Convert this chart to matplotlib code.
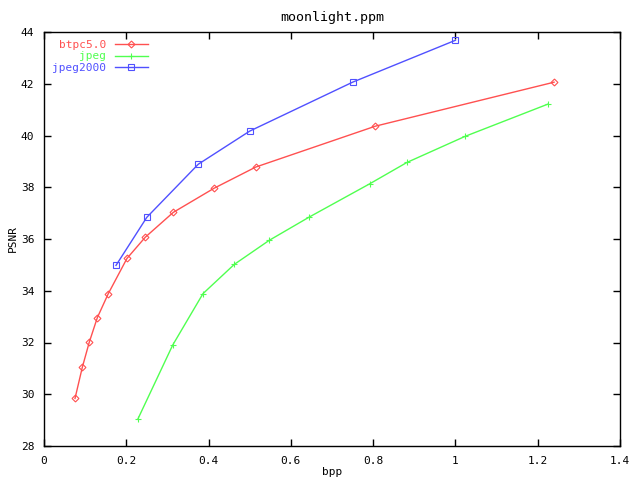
import matplotlib
matplotlib.use("Agg")
import matplotlib.pyplot as plt

plt.rcParams['font.family'] = 'DejaVu Sans Mono'
plt.rcParams['font.size'] = 8

# rate / PSNR curves
btpc_bpp = [0.0754, 0.0931, 0.110, 0.1296, 0.1563, 0.2017, 0.2462, 0.3143, 0.4132, 0.5146, 0.8053, 1.2397]
btpc_psnr = [29.84, 31.04, 32.01, 32.96, 33.89, 35.25, 36.07, 37.03, 37.96, 38.78, 40.36, 42.06]

jpeg_bpp = [0.2278, 0.3128, 0.3865, 0.4626, 0.5476, 0.6449, 0.7924, 0.8823, 1.024, 1.2243]
jpeg_psnr = [29.03, 31.90, 33.89, 35.02, 35.95, 36.85, 38.14, 38.96, 39.97, 41.21]

j2k_bpp = [0.175, 0.25, 0.375, 0.5, 0.75, 1.0]
j2k_psnr = [34.98, 36.84, 38.89, 40.17, 42.06, 43.68]

xticks = [0, 0.2, 0.4, 0.6, 0.8, 1, 1.2, 1.4]
yticks = [28, 30, 32, 34, 36, 38, 40, 42, 44]

red, green, blue = '#ff5050', '#50ff50', '#5050ff'

fig = plt.figure(figsize=(6.4, 4.8), dpi=100)
ax = fig.add_axes([44/640, 34/480, 576/640, 414/480])

ax.plot(btpc_bpp, btpc_psnr, color=red, lw=1, marker='D', ms=3.5,
        mfc='none', mew=0.8, label='btpc5.0')
ax.plot(jpeg_bpp, jpeg_psnr, color=green, lw=1, marker='+', ms=5,
        mew=0.8, label='jpeg')
ax.plot(j2k_bpp, j2k_psnr, color=blue, lw=1, marker='s', ms=4.5,
        mfc='none', mew=0.8, label='jpeg2000')

ax.set_xlim(0, 1.4)
ax.set_ylim(28, 44)
ax.set_xticks(xticks)
ax.set_xticklabels(['0', '0.2', '0.4', '0.6', '0.8', '1', '1.2', '1.4'])
ax.set_yticks(yticks)
ax.tick_params(direction='in', top=True, right=True, length=5, width=1, pad=7)
for s in ax.spines.values():
    s.set_linewidth(1)

ax.set_xlabel('bpp', labelpad=1)
ax.set_ylabel('PSNR', labelpad=2)
ax.set_title('moonlight.ppm', pad=8)

ax.legend(loc='upper left', bbox_to_anchor=(0.0, 1.0), frameon=False,
          markerfirst=False, handlelength=3.0, handletextpad=0.8,
          labelspacing=0.15, labelcolor='linecolor', borderpad=0.2)

plt.savefig('out.png', dpi=100)
